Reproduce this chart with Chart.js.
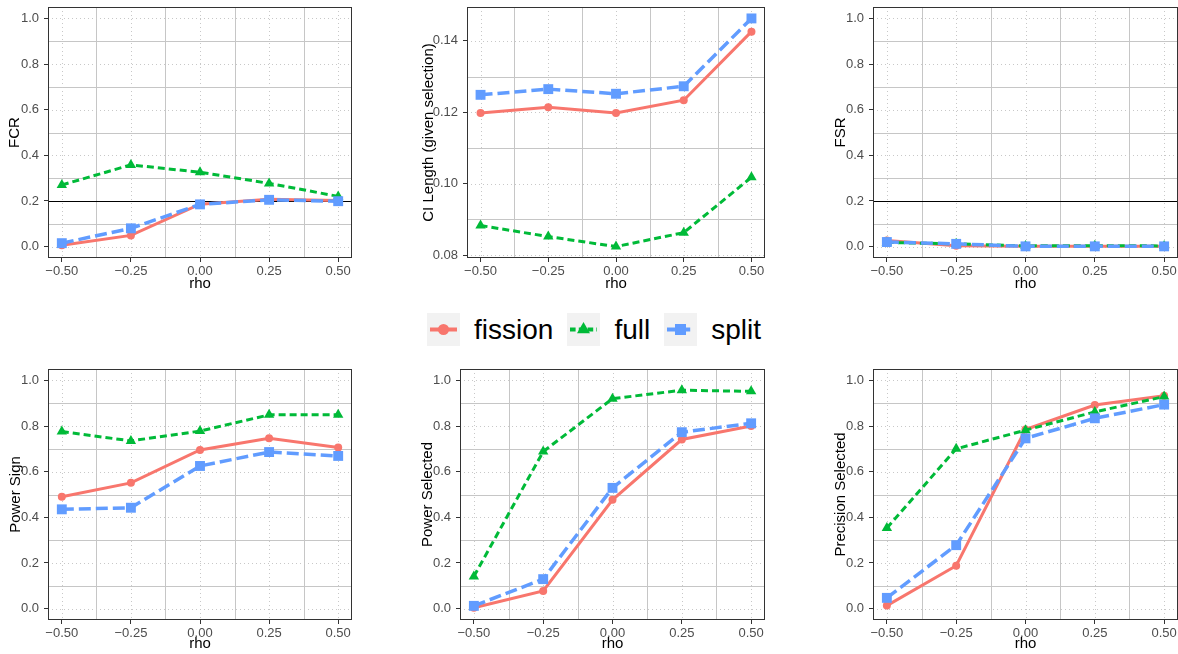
<!DOCTYPE html>
<html>
<head>
<meta charset="utf-8">
<script src="https://cdn.jsdelivr.net/npm/chart.js@4.4.1/dist/chart.umd.min.js"></script>
<style>
  html, body { margin: 0; padding: 0; background: #fff; overflow: hidden; }
  body { width: 1178px; height: 654px; position: relative; font-family: "Liberation Sans", Arial, sans-serif; }
  canvas.panel { position: absolute; }
  #legend { position: absolute; left: 427px; top: 313px; display: flex; align-items: center; height: 33px; }
  #legend canvas { margin-right: 14px; }
  #legend span { font-size: 28px; line-height: 33px; margin-right: 14px; color: #000; }
</style>
</head>
<body>
<div id="legend"></div>
<script>
// x values and axis labels
const rho = [-0.5, -0.25, 0, 0.25, 0.5];
const rhoLabels = ['\u22120.50', '\u22120.25', '0.00', '0.25', '0.50'];
const rateTicks = [0, 0.2, 0.4, 0.6, 0.8, 1.0];
const rateLabels = ['0.0', '0.2', '0.4', '0.6', '0.8', '1.0'];
const ciTicks = [0.08, 0.10, 0.12, 0.14];
const ciLabels = ['0.08', '0.10', '0.12', '0.14'];
const methods = ['fission', 'full', 'split'];
const targetLevel = 0.2;

// FCR
const fcrFission = [0.006, 0.049, 0.186, 0.208, 0.202];
const fcrFull = [0.270, 0.358, 0.326, 0.277, 0.220];
const fcrSplit = [0.015, 0.080, 0.185, 0.205, 0.199];

// CI length (given selection)
const ciFission = [0.1198, 0.1214, 0.1198, 0.1234, 0.1426];
const ciFull = [0.0883, 0.0852, 0.0824, 0.0863, 0.1018];
const ciSplit = [0.1249, 0.1265, 0.1252, 0.1273, 0.1463];

// FSR
const fsrFission = [0.027, 0.004, 0.001, 0.001, 0.001];
const fsrFull = [0.018, 0.012, 0.003, 0.004, 0.003];
const fsrSplit = [0.020, 0.012, 0.001, 0.001, 0.001];

// Power sign
const signFission = [0.490, 0.551, 0.695, 0.746, 0.706];
const signFull = [0.776, 0.735, 0.778, 0.849, 0.849];
const signSplit = [0.435, 0.442, 0.625, 0.686, 0.669];

// Power selected
const selFission = [0.004, 0.077, 0.477, 0.741, 0.800];
const selFull = [0.141, 0.688, 0.920, 0.957, 0.952];
const selSplit = [0.012, 0.129, 0.529, 0.773, 0.812];

// Precision selected
const precFission = [0.013, 0.188, 0.785, 0.892, 0.933];
const precFull = [0.353, 0.700, 0.782, 0.862, 0.929];
const precSplit = [0.047, 0.278, 0.746, 0.834, 0.894];

const FONT = '"Liberation Sans", Arial, sans-serif';

const styles = {
    fission: { color: '#F8766D', dash: [], point: 'circle', radius: 4, width: 3, order: 2 },
    full: { color: '#00BA38', dash: [7, 4], point: 'triangle', radius: 6, width: 3, order: 1 },
    split: { color: '#619CFF', dash: [12, 5], point: 'rect', radius: 7, width: 3.5, order: 0 }
};

const panels = [
    { title: 'FCR', series: [fcrFission, fcrFull, fcrSplit], ticks: rateTicks, labels: rateLabels,
      min: -0.05, max: 1.05, ref: targetLevel,
      box: { x: 0, y: 0, w: 360, h: 295 }, plot: { l: 48, r: 352, t: 5, b: 258 }, yTitleX: 15, xTitleY: 284 },
    { title: 'CI Length (given selection)', series: [ciFission, ciFull, ciSplit], ticks: ciTicks, labels: ciLabels,
      min: 0.0792, max: 0.1495, ref: null,
      box: { x: 400, y: 0, w: 372, h: 295 }, plot: { l: 467, r: 766, t: 5, b: 258 }, yTitleX: 429, xTitleY: 284 },
    { title: 'FSR', series: [fsrFission, fsrFull, fsrSplit], ticks: rateTicks, labels: rateLabels,
      min: -0.05, max: 1.05, ref: targetLevel,
      box: { x: 815, y: 0, w: 375, h: 295 }, plot: { l: 873, r: 1178, t: 5, b: 258 }, yTitleX: 841, xTitleY: 284 },
    { title: 'Power Sign', series: [signFission, signFull, signSplit], ticks: rateTicks, labels: rateLabels,
      min: -0.05, max: 1.05, ref: null,
      box: { x: 0, y: 362, w: 360, h: 292 }, plot: { l: 48, r: 352, t: 367, b: 620 }, yTitleX: 16, xTitleY: 644 },
    { title: 'Power Selected', series: [selFission, selFull, selSplit], ticks: rateTicks, labels: rateLabels,
      min: -0.05, max: 1.05, ref: null,
      box: { x: 400, y: 362, w: 372, h: 292 }, plot: { l: 460, r: 766, t: 367, b: 620 }, yTitleX: 428, xTitleY: 644 },
    { title: 'Precision Selected', series: [precFission, precFull, precSplit], ticks: rateTicks, labels: rateLabels,
      min: -0.05, max: 1.05, ref: null,
      box: { x: 815, y: 362, w: 375, h: 292 }, plot: { l: 873, r: 1178, t: 367, b: 620 }, yTitleX: 841, xTitleY: 644 }
];

// grid (dotted major, solid minor), reference line and panel border
const panelDecor = {
    id: 'panelDecor',
    beforeDatasetsDraw(chart, args, opts) {
        const { ctx, chartArea: a, scales: { x, y } } = chart;
        const xt = x.ticks.map(t => t.value);
        const yt = y.ticks.map(t => t.value);
        const mids = v => v.slice(1).map((t, i) => (t + v[i]) / 2);
        const vline = px => { px = Math.round(px) + 0.5; ctx.beginPath(); ctx.moveTo(px, a.top); ctx.lineTo(px, a.bottom); ctx.stroke(); };
        const hline = py => { py = Math.round(py) + 0.5; ctx.beginPath(); ctx.moveTo(a.left, py); ctx.lineTo(a.right, py); ctx.stroke(); };

        ctx.save();
        ctx.beginPath();
        ctx.rect(a.left, a.top, a.right - a.left, a.bottom - a.top);
        ctx.clip();
        ctx.lineWidth = 1;

        ctx.strokeStyle = '#C6C6C6';
        ctx.setLineDash([]);
        mids(xt).forEach(v => vline(x.getPixelForValue(v)));
        mids(yt).forEach(v => hline(y.getPixelForValue(v)));

        ctx.strokeStyle = '#C8C8C8';
        ctx.setLineDash([1, 3]);
        xt.forEach(v => vline(x.getPixelForValue(v)));
        yt.forEach(v => hline(y.getPixelForValue(v)));

        if (opts.ref != null) {
            ctx.setLineDash([]);
            ctx.strokeStyle = '#000';
            ctx.lineWidth = 1.2;
            hline(y.getPixelForValue(opts.ref));
        }
        ctx.restore();
    },
    afterDatasetsDraw(chart) {
        const { ctx, chartArea: a } = chart;
        ctx.save();
        ctx.strokeStyle = '#333';
        ctx.lineWidth = 1;
        ctx.setLineDash([]);
        ctx.strokeRect(Math.round(a.left) + 0.5, Math.round(a.top) + 0.5,
            Math.round(a.right - a.left) - 1, Math.round(a.bottom - a.top) - 1);
        ctx.restore();
    }
};

// keep Chart.js from reserving room for tick labels overhanging the plot area
function clearPadding(s) {
    s.paddingTop = 0;
    s.paddingBottom = 0;
    s.paddingLeft = 0;
    s.paddingRight = 0;
}

function makePanel(p) {
    const canvas = document.createElement('canvas');
    canvas.className = 'panel';
    canvas.width = p.box.w;
    canvas.height = p.box.h;
    canvas.style.left = p.box.x + 'px';
    canvas.style.top = p.box.y + 'px';
    document.body.appendChild(canvas);

    const yWidth = p.plot.l - p.box.x;
    const xHeight = p.box.y + p.box.h - p.plot.b;

    const datasets = methods.map((m, i) => {
        const s = styles[m];
        return {
            label: m,
            data: rho.map((r, j) => ({ x: r, y: p.series[i][j] })),
            borderColor: s.color,
            backgroundColor: s.color,
            borderWidth: s.width,
            borderDash: s.dash,
            pointStyle: s.point,
            pointRadius: s.radius,
            pointBackgroundColor: s.color,
            pointBorderWidth: 0,
            tension: 0,
            fill: false,
            order: s.order
        };
    });

    new Chart(canvas, {
        type: 'line',
        data: { datasets },
        options: {
            responsive: false,
            animation: false,
            devicePixelRatio: 1,
            layout: { padding: { left: 0, top: p.plot.t - p.box.y, right: p.box.x + p.box.w - p.plot.r, bottom: 0 } },
            plugins: {
                legend: { display: false },
                tooltip: { enabled: false },
                panelDecor: { ref: p.ref }
            },
            scales: {
                x: {
                    type: 'linear',
                    min: -0.55,
                    max: 0.55,
                    afterBuildTicks: s => { s.ticks = rho.map(v => ({ value: v })); },
                    afterFit: s => { s.height = xHeight; clearPadding(s); },
                    ticks: {
                        callback: (v, i) => rhoLabels[i],
                        color: '#4D4D4D',
                        font: { size: 13, family: FONT },
                        padding: 2,
                        maxRotation: 0,
                        autoSkip: false
                    },
                    grid: { drawOnChartArea: false, tickLength: 4, tickColor: '#333', tickWidth: 1 },
                    border: { display: false },
                    title: {
                        display: true, text: 'rho', color: '#000',
                        font: { size: 15, family: FONT },
                        padding: { top: 0, bottom: p.box.y + p.box.h - 9 - p.xTitleY }
                    }
                },
                y: {
                    type: 'linear',
                    min: p.min,
                    max: p.max,
                    afterBuildTicks: s => { s.ticks = p.ticks.map(v => ({ value: v })); },
                    afterFit: s => { s.width = yWidth; clearPadding(s); },
                    ticks: {
                        callback: (v, i) => p.labels[i],
                        color: '#4D4D4D',
                        font: { size: 13, family: FONT },
                        padding: 5
                    },
                    grid: { drawOnChartArea: false, tickLength: 4, tickColor: '#333', tickWidth: 1 },
                    border: { display: false },
                    title: {
                        display: true, text: p.title, color: '#000',
                        font: { size: 15, family: FONT },
                        padding: { top: p.yTitleX - p.box.x - 9, bottom: 0 }
                    }
                }
            }
        },
        plugins: [panelDecor]
    });
}

function drawKey(canvas, m) {
    const s = styles[m];
    const k = canvas.getContext('2d');
    const w = canvas.width, h = canvas.height, cx = w / 2, cy = h / 2;
    k.fillStyle = '#F2F2F2';
    k.fillRect(0, 0, w, h);
    k.strokeStyle = s.color;
    k.fillStyle = s.color;
    k.lineWidth = 4;
    k.setLineDash(s.dash.map(d => d * 0.8));
    k.beginPath();
    k.moveTo(3, cy);
    k.lineTo(w - 3, cy);
    k.stroke();
    k.beginPath();
    if (s.point === 'circle') {
        k.arc(cx, cy, 5.5, 0, Math.PI * 2);
    } else if (s.point === 'triangle') {
        const r = 7.5;
        k.moveTo(cx, cy - r);
        k.lineTo(cx + r * 0.866, cy + r * 0.5);
        k.lineTo(cx - r * 0.866, cy + r * 0.5);
        k.closePath();
    } else {
        k.rect(cx - 5.5, cy - 5.5, 11, 11);
    }
    k.fill();
}

function buildLegend() {
    const legend = document.getElementById('legend');
    methods.forEach(m => {
        const key = document.createElement('canvas');
        key.width = 33;
        key.height = 33;
        legend.appendChild(key);
        drawKey(key, m);
        const label = document.createElement('span');
        label.textContent = m;
        legend.appendChild(label);
    });
}

document.addEventListener('DOMContentLoaded', () => {
    panels.forEach(makePanel);
    buildLegend();
});
</script>
</body>
</html>
